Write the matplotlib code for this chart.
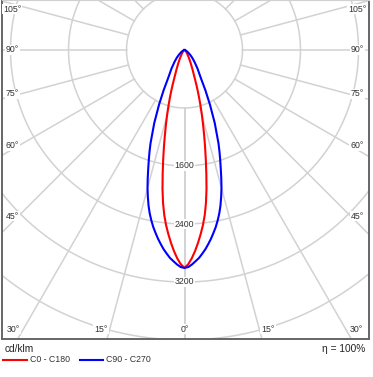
import numpy as np
import matplotlib.pyplot as plt

plt.rcParams['font.family'] = ['Liberation Sans', 'DejaVu Sans']

# luminous intensity distribution, cd/klm (symmetric halves)
gamma = [0, 1, 2, 3, 4, 5, 6, 7, 8, 9, 10, 11, 12, 13, 14, 15, 16, 17, 18, 19, 20,
         22.5, 25, 27.5, 30, 35, 40, 45, 50, 60, 70, 80, 90]
c0_c180 = [3006, 2955, 2875, 2777, 2668, 2551, 2430, 2292, 2128, 1940, 1734, 1541, 1364,
           1203, 1058, 927, 805, 690, 588, 493, 410,
           285, 205, 150, 112, 66, 42, 30, 20, 10, 5, 2, 0]
c90_c270 = [3006, 2994, 2960, 2917, 2875, 2819, 2762, 2696, 2628, 2554, 2480, 2396, 2306,
            2204, 2089, 1971, 1841, 1711, 1593, 1482, 1371,
            1090, 830, 620, 458, 313, 215, 150, 100, 45, 18, 6, 0]

ring_values = [800, 1600, 2400, 3200, 4000, 4800, 5600]
ring_labels = ['1600', '2400', '3200']
angle_ticks = list(range(0, 181, 15))
side_labels = ['105°', '90°', '75°', '60°', '45°']
bottom_labels = ['30°', '15°', '0°']

W, H = 373, 377
k = 800 / 58.0          # cd/klm per pixel
cx, cy = 184.5, 50      # pole position in pixels
left, right, top, bottom = 2, 369, 0, 339

fig = plt.figure(figsize=(W / 100, H / 100), dpi=100)
ax = fig.add_axes([left / W, 1 - bottom / H, (right - left) / W, (bottom - top) / H])
ax.set_xlim((left - cx) * k, (right - cx) * k)
ax.set_ylim(-(bottom - cy) * k, (cy - top) * k)
ax.set_xticks([])
ax.set_yticks([])
for s in ['left', 'right', 'bottom']:
    ax.spines[s].set_color('#666666')
    ax.spines[s].set_linewidth(1.4)
ax.spines['top'].set_color('#d0d0d0')
ax.spines['top'].set_linewidth(0.8)

def px(x, y):
    return (x - cx) * k, (cy - y) * k

grid_col = '#d2d2d2'
t = np.linspace(0, 2 * np.pi, 720)
for r in ring_values:
    ax.plot(r * np.cos(t), r * np.sin(t), color=grid_col, lw=1.1, zorder=1)
for a in angle_ticks:
    for side in (-1, 1):
        th = np.radians(a)
        rr = np.array([ring_values[0], 8000])
        ax.plot(side * rr * np.sin(th), -rr * np.cos(th), color=grid_col, lw=1.1, zorder=1)

# ring value labels on the 0° axis
for lab in ring_labels:
    v = float(lab)
    ax.text(0, -v, lab, ha='center', va='center', fontsize=6.3, color='#333333', zorder=3,
            bbox=dict(facecolor='white', edgecolor='none', pad=0.6))

# angle labels along the frame
side_y = [9, 50, 94, 146, 216]
for lab, yy in zip(side_labels, side_y):
    for xx in (12, 357):
        ax.text(*px(xx, yy), lab, ha='center', va='center', fontsize=6.3, color='#333333', zorder=3,
                bbox=dict(facecolor='white', edgecolor='none', pad=0.6))
bottom_x = [13, 101, 184.5]
for lab, xx in zip(bottom_labels, bottom_x):
    for x2 in {xx, 2 * cx - xx}:
        ax.text(*px(x2, 329), lab, ha='center', va='center', fontsize=6.3, color='#333333', zorder=3,
                bbox=dict(facecolor='white', edgecolor='none', pad=0.6))

def curve(vals):
    g = np.radians(np.array(gamma))
    v = np.array(vals, dtype=float)
    x = np.concatenate([-(v * np.sin(g))[::-1], v * np.sin(g)])
    y = np.concatenate([-(v * np.cos(g))[::-1], -v * np.cos(g)])
    return x, y

ax.plot(*curve(c0_c180), color='#ff0000', lw=1.5, zorder=4, solid_joinstyle='round')
ax.plot(*curve(c90_c270), color='#0000ff', lw=1.5, zorder=4, solid_joinstyle='round')

# legend area below the frame
fig.text(5 / W, 1 - 349 / H, 'cd/klm', fontsize=7.3, color='#222222', va='center', ha='left')
fig.text(365 / W, 1 - 349 / H, 'η = 100%', fontsize=7.3, color='#222222', va='center', ha='right')
fig.add_artist(plt.Line2D([3 / W, 27 / W], [1 - 360 / H] * 2, color='#ff0000', lw=1.5))
fig.text(30 / W, 1 - 360 / H, 'C0 - C180', fontsize=6.3, color='#333333', va='center', ha='left')
fig.add_artist(plt.Line2D([80 / W, 103 / W], [1 - 360 / H] * 2, color='#0000ff', lw=1.5))
fig.text(106 / W, 1 - 360 / H, 'C90 - C270', fontsize=6.3, color='#333333', va='center', ha='left')

fig.savefig('out.png', dpi=100)
